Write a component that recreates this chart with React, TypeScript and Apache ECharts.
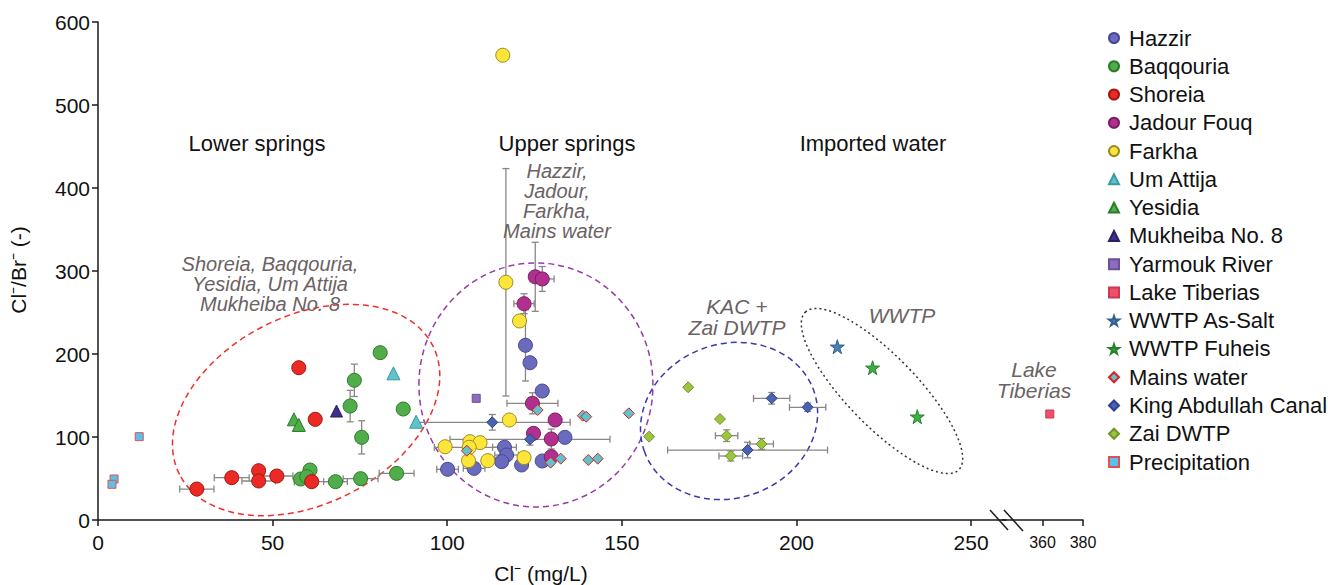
import React, { useEffect, useRef } from 'react';
import * as echarts from 'echarts';

// Each point: [Cl- (mg/L), Cl/Br ratio, x error, y error]
const hazzir = [
  [122.4, 210.5, 0, 43], [123.7, 189.5, 0, 0], [127.2, 155.4, 0, 0], [133.7, 99.6, 0, 0],
  [116.4, 87.6, 3.4, 0], [117.0, 78.3, 3.4, 0], [100.1, 61.1, 3.1, 0], [107.7, 62.2, 3.1, 0],
  [115.6, 70.3, 0, 0], [121.3, 66.3, 0, 0], [127.2, 71.1, 0, 0],
];
const baqqouria = [
  [80.8, 201.6, 0, 0], [73.4, 168.3, 0, 19.5], [72.2, 137.3, 0, 19], [87.4, 133.7, 0, 0],
  [75.5, 99.6, 0, 20], [58.0, 49.4, 0, 0], [60.7, 60.2, 0, 0], [59.8, 52.2, 0, 0],
  [68.0, 46.2, 3.4, 0], [75.2, 49.8, 5, 0], [85.5, 56.2, 5, 0],
];
const shoreia = [
  [57.5, 183.5, 0, 0], [62.2, 121.3, 0, 0], [28.3, 37.3, 4.9, 0], [38.3, 51, 5, 0],
  [46, 59.4, 0, 0], [46, 47, 4.8, 0], [51.2, 53, 4.6, 0], [61.2, 46.2, 5, 0],
];
const jadourFouq = [
  [125.2, 293, 0, 41.6], [127.2, 290.4, 3.4, 15], [122.0, 260.6, 2.9, 12], [124.4, 140.6, 7.3, 12.7],
  [130.9, 120.5, 0, 0], [124.7, 104.4, 0, 0], [129.8, 97.6, 0, 12], [129.8, 76.3, 0, 0],
];
const farkha = [
  [115.9, 560, 0, 0], [116.8, 286.4, 0, 137], [120.7, 239.8, 0, 0], [117.8, 120.5, 0, 0],
  [106.5, 94.4, 0, 0], [109.4, 93.2, 0, 0], [99.4, 88.3, 0, 0], [106.3, 87.6, 10, 0],
  [106.1, 71.5, 0, 0], [111.6, 71.5, 0, 0], [122.0, 75.1, 0, 0],
];
const umAttija = [[84.6, 176.7, 0, 0], [91.1, 118.4, 0, 0]];
const yesidia = [[56.1, 121.3, 0, 0], [57.5, 114.5, 0, 0]];
const mukheiba = [[68.3, 131.3, 0, 0]];
const yarmouk = [[108.3, 146.6, 0, 0]];
const lakeTiberias = [[363.6, 127.7, 0, 0]];
const wwtpAsSalt = [[211.7, 208.8, 0, 0]];
const wwtpFuheis = [[221.8, 183.5, 0, 0], [234.6, 124.5, 0, 0]];
const mainsWater = [
  [125.9, 132.5, 0, 0], [138.8, 125.7, 0, 0], [139.8, 124.5, 0, 0], [152.0, 128.5, 0, 0],
  [105.6, 83.5, 0, 0], [129.6, 69.1, 0, 0], [132.5, 73.9, 0, 0], [140.4, 72.3, 0, 0], [143.1, 73.9, 0, 0],
];
const kac = [
  [112.9, 117.7, 22.3, 9.4], [123.7, 97.2, 22.9, 7], [192.9, 146.6, 5.2, 7],
  [203.2, 135.8, 5.2, 5], [186.0, 84.3, 22.9, 9.4],
];
const zaiDwtp = [
  [169.0, 159.9, 0, 0], [178.1, 121.7, 0, 0], [157.8, 100.4, 0, 0],
  [180.0, 101.6, 3.2, 7], [190.0, 91.6, 3.4, 6.6], [181.2, 77.1, 3.4, 6],
];
const precipitation = [[11.8, 100.4, 0, 0], [4.6, 49.4, 0, 0], [4.0, 43.0, 0, 0]];

const xTicksMain = [0, 50, 100, 150, 200, 250];
const xTicksBreak = [360, 380];

const STAR = 'path://M50,0 L61,35 L98,35 L68,57 L79,91 L50,70 L21,91 L32,57 L2,35 L39,35 Z';

const groups = [
  { name: 'Hazzir', data: hazzir, symbol: 'circle', size: 14, fill: '#6b6bbd', border: '#47478f' },
  { name: 'Baqqouria', data: baqqouria, symbol: 'circle', size: 14, fill: '#4fae4a', border: '#2d7a2a' },
  { name: 'Shoreia', data: shoreia, symbol: 'circle', size: 14, fill: '#ec2a25', border: '#a01512' },
  { name: 'Jadour Fouq', data: jadourFouq, symbol: 'circle', size: 14, fill: '#b12f8e', border: '#7a1c60' },
  { name: 'Farkha', data: farkha, symbol: 'circle', size: 14, fill: '#fde53a', border: '#9a8a20' },
  { name: 'Um Attija', data: umAttija, symbol: 'triangle', size: 13, fill: '#5ec3cb', border: '#3a9aa0' },
  { name: 'Yesidia', data: yesidia, symbol: 'triangle', size: 13, fill: '#4fae4a', border: '#2d7a2a' },
  { name: 'Mukheiba No. 8', data: mukheiba, symbol: 'triangle', size: 12, fill: '#3d2f8a', border: '#2a1f60' },
  { name: 'Yarmouk River', data: yarmouk, symbol: 'rect', size: 8, fill: '#8b6db8', border: '#6a4f98' },
  { name: 'Lake Tiberias', data: lakeTiberias, symbol: 'rect', size: 8, fill: '#ef4f6a', border: '#c83a50', grid: 1 },
  { name: 'WWTP As-Salt', data: wwtpAsSalt, symbol: STAR, size: 14, fill: '#4b80b6', border: '#2f5f90' },
  { name: 'WWTP Fuheis', data: wwtpFuheis, symbol: STAR, size: 14, fill: '#3cb043', border: '#26802c' },
  { name: 'Mains water', data: mainsWater, symbol: 'diamond', size: 11, fill: '#5ec3cb', border: '#e02020' },
  { name: 'King Abdullah Canal', data: kac, symbol: 'diamond', size: 11, fill: '#4a62b3', border: '#2e4190' },
  { name: 'Zai DWTP', data: zaiDwtp, symbol: 'diamond', size: 11, fill: '#9cc43e', border: '#6f9428' },
  { name: 'Precipitation', data: precipitation, symbol: 'rect', size: 8, fill: '#5ac2e6', border: '#e0505a' },
];

const FONT = 'Arial, "Liberation Sans", Helvetica, sans-serif';
const ANNOT = '#6b6264';

// Dashed group outlines: centre in data units, radii in px
const outlines = [
  { cx: 59.6, cy: 132.5, rx: 142, ry: 94, rot: 0.47, color: '#f0302a', dash: [6, 4] },
  { cx: 125.4, cy: 162.7, rx: 117, ry: 122, rot: 0, color: '#9a3aa8', dash: [6, 4] },
  { cx: 180.7, cy: 119.3, rx: 90, ry: 77, rot: 0.35, color: '#3a3aa8', dash: [6, 4] },
  { cx: 224.5, cy: 155.4, rx: 110, ry: 35, rot: -0.8, color: '#333333', dash: [2, 3] },
];

export default function App() {
  const ref = useRef<HTMLDivElement>(null);
  useEffect(() => {
    document.body.style.margin = '0';
    if (!ref.current) return;
    const chart = echarts.init(ref.current, undefined, { renderer: 'svg' });

    const errorBars = groups.flatMap((g) =>
      g.data.filter((p) => p[2] > 0 || p[3] > 0).map((p) => p.slice())
    );

    const axisLineStyle = { color: '#1a1a1a', width: 1.5 };

    const option: any = {
      animation: false,
      backgroundColor: '#ffffff',
      grid: [
        { left: 98, top: 22, width: 908, height: 498 },
        { left: 1002, top: 22, width: 81, height: 498 },
      ],
      xAxis: [
        {
          gridIndex: 0, type: 'value', min: 0, max: 260, interval: 50,
          axisLine: { show: true, lineStyle: axisLineStyle },
          axisTick: { show: true, length: 6, lineStyle: axisLineStyle, customValues: xTicksMain },
          axisLabel: { fontSize: 21, color: '#111', fontFamily: FONT, margin: 12, customValues: xTicksMain },
          splitLine: { show: false },
        },
        {
          gridIndex: 1, type: 'value', min: 340, max: 380, interval: 20,
          axisLine: { show: true, lineStyle: axisLineStyle },
          axisTick: { show: true, length: 6, lineStyle: axisLineStyle, customValues: xTicksBreak },
          axisLabel: { fontSize: 16, color: '#111', fontFamily: FONT, margin: 14, customValues: xTicksBreak },
          splitLine: { show: false },
        },
      ],
      yAxis: [
        {
          gridIndex: 0, type: 'value', min: 0, max: 600, interval: 100,
          axisLine: { show: true, lineStyle: axisLineStyle },
          axisTick: { show: true, length: 6, lineStyle: axisLineStyle },
          axisLabel: { fontSize: 21, color: '#111', fontFamily: FONT, margin: 8 },
          splitLine: { show: false },
        },
        { gridIndex: 1, type: 'value', min: 0, max: 600, show: false, splitLine: { show: false } },
      ],
      legend: {
        orient: 'vertical', left: 1103, top: 22,
        itemWidth: 10, itemHeight: 10, itemGap: 6.27,
        textStyle: { fontSize: 22, lineHeight: 22, color: '#111', fontFamily: FONT, padding: [0, 0, 0, 5] },
        data: groups.map((g) => g.name),
        selectedMode: false,
      },
      series: [
        {
          type: 'custom', name: 'errors', xAxisIndex: 0, yAxisIndex: 0, z: 1,
          data: errorBars,
          renderItem: (params: any, api: any) => {
            const x = api.value(0), y = api.value(1), xe = api.value(2), ye = api.value(3);
            const st = { stroke: '#8a8686', lineWidth: 1.3 };
            const cap = 3.5;
            const children: any[] = [];
            if (xe > 0) {
              const l = api.coord([x - xe, y]);
              const r = api.coord([x + xe, y]);
              children.push({ type: 'line', shape: { x1: l[0], y1: l[1], x2: r[0], y2: r[1] }, style: st });
              children.push({ type: 'line', shape: { x1: l[0], y1: l[1] - cap, x2: l[0], y2: l[1] + cap }, style: st });
              children.push({ type: 'line', shape: { x1: r[0], y1: r[1] - cap, x2: r[0], y2: r[1] + cap }, style: st });
            }
            if (ye > 0) {
              const t = api.coord([x, y + ye]);
              const b = api.coord([x, y - ye]);
              children.push({ type: 'line', shape: { x1: t[0], y1: t[1], x2: b[0], y2: b[1] }, style: st });
              children.push({ type: 'line', shape: { x1: t[0] - cap, y1: t[1], x2: t[0] + cap, y2: t[1] }, style: st });
              children.push({ type: 'line', shape: { x1: b[0] - cap, y1: b[1], x2: b[0] + cap, y2: b[1] }, style: st });
            }
            return { type: 'group', children };
          },
        },
        ...groups.map((g) => ({
          type: 'scatter',
          name: g.name,
          xAxisIndex: g.grid || 0,
          yAxisIndex: g.grid || 0,
          symbol: g.symbol,
          symbolSize: g.size,
          z: 3,
          itemStyle: { color: g.fill, borderColor: g.border, borderWidth: 1, opacity: 1 },
          data: g.data.map((p) => [p[0], p[1]]),
        })),
      ],
    };
    chart.setOption(option);

    const ellipses = outlines.map((o) => {
      const c = chart.convertToPixel({ gridIndex: 0 }, [o.cx, o.cy]) as number[];
      return {
        type: 'ellipse', x: c[0], y: c[1], rotation: o.rot, z: 0, silent: true,
        shape: { cx: 0, cy: 0, rx: o.rx, ry: o.ry },
        style: { fill: 'none', stroke: o.color, lineWidth: 1.5, lineDash: o.dash },
      };
    });

    const txt = (text: string, x: number, y: number, size: number, color: string, italic: boolean, lh?: number) => ({
      type: 'text', x, y, z: 5, silent: true,
      style: {
        text, fill: color, fontSize: size, fontFamily: FONT, fontStyle: italic ? 'italic' : 'normal',
        align: 'center', verticalAlign: 'middle', lineHeight: lh || size,
      },
    });

    chart.setOption({
      graphic: [
        ...ellipses,
        { type: 'line', z: 5, shape: { x1: 990, y1: 510, x2: 1008, y2: 530 }, style: { stroke: '#1a1a1a', lineWidth: 1.5 } },
        { type: 'line', z: 5, shape: { x1: 1004, y1: 510, x2: 1023, y2: 531 }, style: { stroke: '#1a1a1a', lineWidth: 1.5 } },
        txt('Lower springs', 257, 143, 22, '#111', false),
        txt('Upper springs', 567, 143, 22, '#111', false),
        txt('Imported water', 873, 143, 22, '#111', false),
        txt('Hazzir,\nJadour,\nFarkha,\nMains water', 557, 201, 20, ANNOT, true, 20),
        txt('Shoreia, Baqqouria,\nYesidia, Um Attija\nMukheiba No. 8', 270, 284, 20, ANNOT, true, 20),
        txt('KAC +\nZai DWTP', 737, 317, 21, ANNOT, true, 21),
        txt('WWTP', 902, 315, 21, ANNOT, true),
        txt('Lake\nTiberias', 1034, 380, 21, ANNOT, true, 21),
        txt('Cl\u207B (mg/L)', 541, 573, 21, '#111', false),
        { ...txt('Cl\u207B/Br\u207B (-)', 18, 270, 21, '#111', false), rotation: Math.PI / 2 },
      ],
    });

    return () => chart.dispose();
  }, []);
  return <div ref={ref} style={{ position: 'absolute', left: 0, top: 0, width: 1328, height: 585 }} />;
}
